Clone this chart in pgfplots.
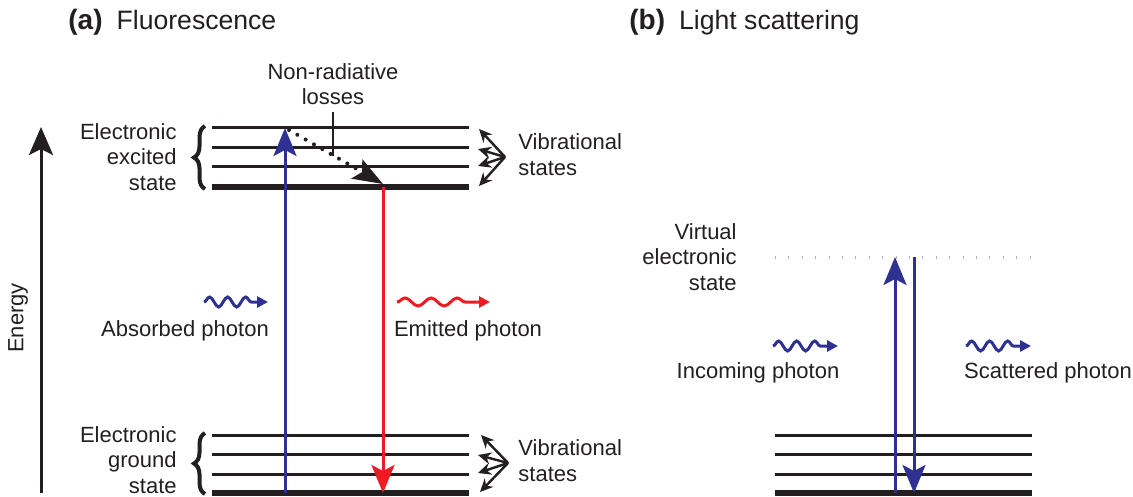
\documentclass[border=0pt]{standalone}
\usepackage{fontspec}
\setmainfont{Liberation Sans}
\usepackage{pgfplots}
\pgfplotsset{compat=1.18}
\usetikzlibrary{arrows.meta,decorations.pathmorphing,decorations.pathreplacing}
\definecolor{dblue}{HTML}{2E3192}
\definecolor{dred}{HTML}{ED1C24}
\definecolor{dblack}{HTML}{231F20}
\tikzset{lbl/.style={text=dblack,inner sep=0pt,font=\fontsize{11}{12.75}\selectfont},
  ttl/.style={text=dblack,inner sep=0pt,anchor=west,font=\fontsize{13.3}{15}\selectfont}}
\begin{document}
\begin{tikzpicture}
\begin{axis}[x=0.5pt,y=0.5pt,xmin=0,xmax=1133,ymin=0,ymax=497,y dir=reverse,
  hide axis,clip=false,scale only axis]
\addplot[draw=none] coordinates {(0,0)(1133,497)};
% ---- excited levels (a)
\addplot[dblack,line width=1.5pt] coordinates {(212,128)(469,128)};
\addplot[dblack,line width=1.5pt] coordinates {(212,148)(469,148)};
\addplot[dblack,line width=1.5pt] coordinates {(212,167)(469,167)};
\addplot[dblack,line width=3pt] coordinates {(212,187)(469,187)};
% ---- ground levels (a)
\addplot[dblack,line width=1.5pt] coordinates {(212,435)(469,435)};
\addplot[dblack,line width=1.5pt] coordinates {(212,454)(469,454)};
\addplot[dblack,line width=1.5pt] coordinates {(212,474)(469,474)};
\addplot[dblack,line width=3pt] coordinates {(212,493)(469,493)};
% ---- ground levels (b)
\addplot[dblack,line width=1.5pt] coordinates {(775,435)(1032,435)};
\addplot[dblack,line width=1.5pt] coordinates {(775,454)(1032,454)};
\addplot[dblack,line width=1.5pt] coordinates {(775,474)(1032,474)};
\addplot[dblack,line width=3pt] coordinates {(775,493)(1032,493)};
% ---- virtual state
\addplot[black!30,line width=1.5pt,dash pattern=on 0.5pt off 6.2pt] coordinates {(775,257)(1030,257)};
% ---- energy arrow
\addplot[dblack,line width=1.5pt,-{Stealth[length=14pt,width=12pt,inset=3pt]}] coordinates {(41,493)(41,127)};
% ---- absorption / emission
\addplot[dblue,line width=1.5pt,-{Stealth[length=14pt,width=11.5pt,inset=3pt]}] coordinates {(285,493)(285,128)};
\addplot[dred,line width=1.5pt,-{Stealth[length=14pt,width=11.5pt,inset=3pt]}] coordinates {(383,187)(383,493)};
% ---- scattering
\addplot[dblue,line width=1.5pt,-{Stealth[length=14pt,width=11.5pt,inset=3pt]}] coordinates {(895,493)(895,257)};
\addplot[dblue,line width=1.5pt,-{Stealth[length=14pt,width=11.5pt,inset=3pt]}] coordinates {(914,257)(914,493)};
% ---- non-radiative
\addplot[dblack,line width=2pt,line cap=round,dash pattern=on 0pt off 4.8pt,-{Stealth[length=15pt,width=11pt,inset=3pt]}] coordinates {(289,130)(383,184)};
\addplot[dblack,line width=1.25pt] coordinates {(333,112)(333,156)};
% ---- vibrational arrows (excited)
\addplot[dblack,line width=1.2pt,-{Stealth[length=6.5pt,width=6pt]}] coordinates {(505,157)(479,129)};
\addplot[dblack,line width=1.2pt,-{Stealth[length=6.5pt,width=6pt]}] coordinates {(505,157)(478,149)};
\addplot[dblack,line width=1.2pt,-{Stealth[length=6.5pt,width=6pt]}] coordinates {(505,157)(478,166)};
\addplot[dblack,line width=1.2pt,-{Stealth[length=6.5pt,width=6pt]}] coordinates {(505,157)(479,186)};
% ---- vibrational arrows (ground)
\addplot[dblack,line width=1.2pt,-{Stealth[length=6.5pt,width=6pt]}] coordinates {(508,463)(481,435)};
\addplot[dblack,line width=1.2pt,-{Stealth[length=6.5pt,width=6pt]}] coordinates {(508,463)(478,455)};
\addplot[dblack,line width=1.2pt,-{Stealth[length=6.5pt,width=6pt]}] coordinates {(508,463)(478,473)};
\addplot[dblack,line width=1.2pt,-{Stealth[length=6.5pt,width=6pt]}] coordinates {(508,463)(480,492)};
% ---- braces
\addplot[dblack,line width=2pt,decorate,decoration={brace,amplitude=5.5pt,aspect=0.5}] coordinates {(205,189)(205,126)};
\addplot[dblack,line width=2pt,decorate,decoration={brace,amplitude=5.5pt,aspect=0.5}] coordinates {(205,494)(205,433)};
% ---- photons
\addplot[dblue,line width=1.5pt,decorate,decoration={snake,amplitude=2.5pt,segment length=9pt,post length=7pt},-{Triangle[length=5.5pt,width=5.5pt]}] coordinates {(204,302)(268,302)};
\addplot[dred,line width=1.5pt,decorate,decoration={snake,amplitude=2pt,segment length=13pt,post length=9pt},-{Triangle[length=5.5pt,width=5.5pt]}] coordinates {(397,302)(490,302)};
\addplot[dblue,line width=1.5pt,decorate,decoration={snake,amplitude=2.5pt,segment length=9pt,post length=7pt},-{Triangle[length=5.5pt,width=5.5pt]}] coordinates {(773,346)(838,346)};
\addplot[dblue,line width=1.5pt,decorate,decoration={snake,amplitude=2.5pt,segment length=9pt,post length=7pt},-{Triangle[length=5.5pt,width=5.5pt]}] coordinates {(966,346)(1031,346)};
% ---- text
\node[ttl] at (axis cs:68,22) {\textbf{\fontsize{14}{15}\selectfont(a)}\hspace{7pt}Fluorescence};
\node[ttl] at (axis cs:629,22) {\textbf{\fontsize{14}{15}\selectfont(b)}\hspace{7pt}Light scattering};
\node[lbl,align=center] at (axis cs:333,84) {Non-radiative\\losses};
\node[lbl,anchor=east,align=right] at (axis cs:177,157) {Electronic\\excited\\state};
\node[lbl,anchor=east,align=right] at (axis cs:177,460) {Electronic\\ground\\state};
\node[lbl,anchor=west,align=left,font=\fontsize{11}{13}\selectfont] at (axis cs:518,155) {Vibrational\\states};
\node[lbl,anchor=west,align=left,font=\fontsize{11}{13}\selectfont] at (axis cs:518,461) {Vibrational\\states};
\node[lbl] at (axis cs:185,331) {Absorbed photon};
\node[lbl] at (axis cs:468,331) {Emitted photon};
\node[lbl,anchor=east,align=right] at (axis cs:737,257) {Virtual\\electronic\\state};
\node[lbl] at (axis cs:758,373) {Incoming photon};
\node[lbl] at (axis cs:1048,373) {Scattered photon};
\node[lbl,rotate=90] at (axis cs:18,318) {Energy};
\end{axis}
\end{tikzpicture}
\end{document}
